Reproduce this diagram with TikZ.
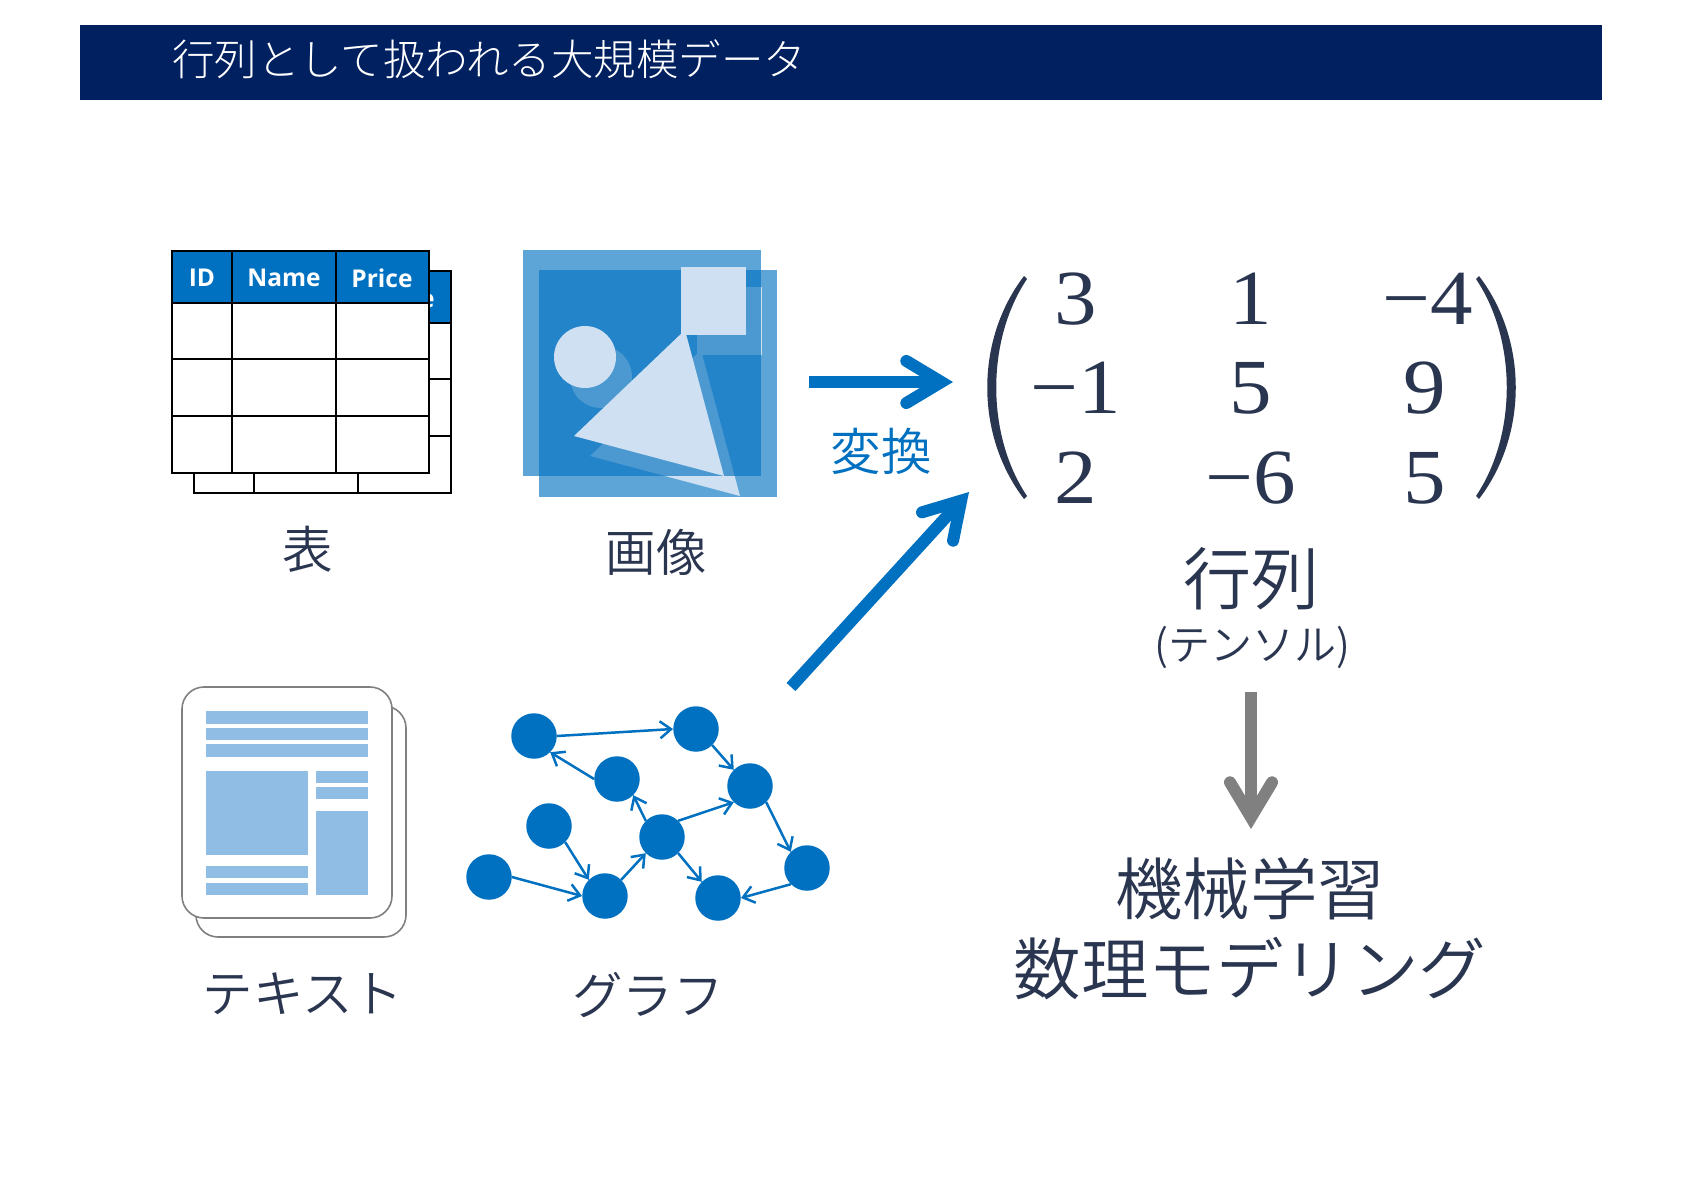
\documentclass[tikz,border=0pt]{standalone}
\usepackage{fontspec}
\usepackage{tikz}
\usetikzlibrary{arrows.meta}
\setmainfont{Noto Sans CJK JP DemiLight}
\newfontfamily\lightfont{Noto Sans CJK JP Light}
\newfontfamily\tablefont{Open Sans}
\newfontfamily\matfont[FakeStretch=1.09]{Liberation Serif}
\definecolor{headblue}{HTML}{002060}
\definecolor{mainblue}{HTML}{0070C0}
\definecolor{paleblue}{HTML}{CFE0F3}
\definecolor{docblue}{HTML}{8FBDE3}
\definecolor{inkblue}{HTML}{2A3550}
\newcommand{\jpsize}[1]{\fontsize{#1}{#1}\selectfont}
\tikzset{
  gnode/.style={circle,fill=mainblue,inner sep=0pt,minimum size=45.5pt},
  gedge/.style={draw=mainblue,line width=2.5pt,-{Straight Barb[length=11pt,width=17pt,line width=2.5pt]}},
  bigarrow/.style={line width=12pt,-{Straight Barb[line cap=round,line join=miter,length=35pt,width=42pt,line width=12pt]}},
  txtlabel/.style={text=inkblue,inner sep=0pt,font=\jpsize{50.5}},
  cell/.style={text=white,inner sep=0pt,font=\tablefont\bfseries\jpsize{24.5}},
  entry/.style={text=inkblue,inner sep=0pt,font=\matfont\jpsize{78}},
}
\begin{document}
\begin{tikzpicture}[x=1pt,y=-1pt]
  \useasboundingbox (0,0) rectangle (1684,1191);
  \fill[headblue] (80,25) rectangle (1602,100);
  \node[anchor=west,text=white,inner sep=0pt,font=\lightfont\jpsize{42.5}] (title) at (172,59) {行列として扱われる大規模データ};
  % table
  \foreach \dx/\dy/\nm in {22/20/b,0/0/f} {
    \begin{scope}[shift={(\dx,\dy)}]
      \fill[white] (172,251) rectangle (429,473);
      \fill[mainblue] (172,251) rectangle (429,303);
      \draw[line width=2.4pt] (172,251) rectangle (429,473);
      \draw[line width=2.4pt] (172,303) -- (429,303) (172,359) -- (429,359) (172,416) -- (429,416);
      \draw[line width=2.4pt] (232,251) -- (232,473) (336,251) -- (336,473);
      \node[cell] (id\nm) at (202,278) {ID};
      \node[cell] (name\nm) at (284,278) {Name};
      \node[cell] (price\nm) at (382,278) {Price};
    \end{scope}
  }
  \node[txtlabel] (tablelabel) at (308,549) {表};
  % image
  \fill[mainblue,opacity=0.63] (539,270) rectangle (777,497);
  \begin{scope}[shift={(16,20)}]
    \fill[paleblue] (681,267) rectangle (746,335);
    \fill[paleblue] (585,357) circle (31);
    \fill[paleblue] (685,330) -- (574,436) -- (724,476) -- cycle;
  \end{scope}
  \fill[mainblue,opacity=0.63] (523,250) rectangle (761,476);
  \fill[paleblue] (681,267) rectangle (746,335);
  \fill[paleblue] (585,357) circle (31);
  \fill[paleblue] (685,330) -- (574,436) -- (724,476) -- cycle;
  \node[txtlabel] (imagelabel) at (656,552) {画像};
  % document
  \draw[gray,line width=1.6pt,fill=white,rounded corners=22pt] (196,706) rectangle (406,937);
  \draw[gray,line width=1.6pt,fill=white,rounded corners=22pt] (182,687) rectangle (392,918);
  \fill[docblue] (206,711) rectangle (368,723.5);
  \fill[docblue] (206,728) rectangle (368,740);
  \fill[docblue] (206,744) rectangle (368,756.5);
  \fill[docblue] (206,771) rectangle (308,855);
  \fill[docblue] (316,771) rectangle (368,783);
  \fill[docblue] (316,787) rectangle (368,799);
  \fill[docblue] (316,811) rectangle (368,895);
  \fill[docblue] (206,866) rectangle (308,878);
  \fill[docblue] (206,883) rectangle (308,895);
  \node[txtlabel] (textlabel) at (303,994) {テキスト};
  % graph
  \node[gnode] (g1) at (534,736) {};
  \node[gnode] (g2) at (696,729) {};
  \node[gnode] (g3) at (617,779) {};
  \node[gnode] (g4) at (750,786) {};
  \node[gnode] (g5) at (549,826) {};
  \node[gnode] (g6) at (662,837) {};
  \node[gnode] (g7) at (489,877) {};
  \node[gnode] (g8) at (605,896) {};
  \node[gnode] (g9) at (718,898) {};
  \node[gnode] (g10) at (807,868) {};
  \foreach \a/\b in {g1.east/g2.west,g2.south east/g4.north west,g3.west/g1.south east,
      g6.north west/g3.south east,g6.north east/g4.south west,g4.south east/g10.north west,
      g10.south west/g9.east,g6.south east/g9.north west,g8.north east/g6.south west,
      g5.south east/g8.north west,g7.east/g8.west}
    \draw[gedge] (\a) -- (\b);
  \node[txtlabel] (graphlabel) at (648,995) {グラフ};
  % matrix
  \node[entry] (m11) at (1076,299) {3};
  \node[entry] (m12) at (1251,299) {1};
  \node[entry] (m13) at (1428,299) {−4};
  \node[entry] (m21) at (1076,388) {−1};
  \node[entry] (m22) at (1251,388) {5};
  \node[entry] (m23) at (1425,388) {9};
  \node[entry] (m31) at (1076,478) {2};
  \node[entry] (m32) at (1251,478) {−6};
  \node[entry] (m33) at (1425,478) {5};
  \fill[inkblue] (1024,276) .. controls (975,340) and (975,435) .. (1024,499)
    -- (1027,496) .. controls (986,435) and (986,340) .. (1027,279) -- cycle;
  \fill[inkblue] (1479,276) .. controls (1528,340) and (1528,435) .. (1479,499)
    -- (1476,496) .. controls (1517,435) and (1517,340) .. (1476,279) -- cycle;
  \node[txtlabel,font=\jpsize{68}] (matlabel) at (1251,579) {行列};
  \node[txtlabel,font=\jpsize{42}] (tensor) at (1252,647) {(テンソル)};
  \node[txtlabel,font=\jpsize{67.5}] (ml) at (1250,889) {機械学習};
  \node[txtlabel,font=\jpsize{67.5}] (model) at (1250,969) {数理モデリング};
  % arrows
  \coordinate (a1s) at (809,382);
  \coordinate (a1e) at (953,382);
  \coordinate (a2s) at (791,687);
  \coordinate (a2e) at (969,492);
  \coordinate (a3s) at (1251,692);
  \coordinate (a3e) at (1251,829);
  \draw[bigarrow,mainblue] (a1s) -- (a1e);
  \draw[bigarrow,mainblue] (a2s) -- (a2e);
  \draw[bigarrow,gray] (a3s) -- (a3e);
  \node[txtlabel,text=mainblue] (convert) at (881,451) {変換};
\end{tikzpicture}
\end{document}
